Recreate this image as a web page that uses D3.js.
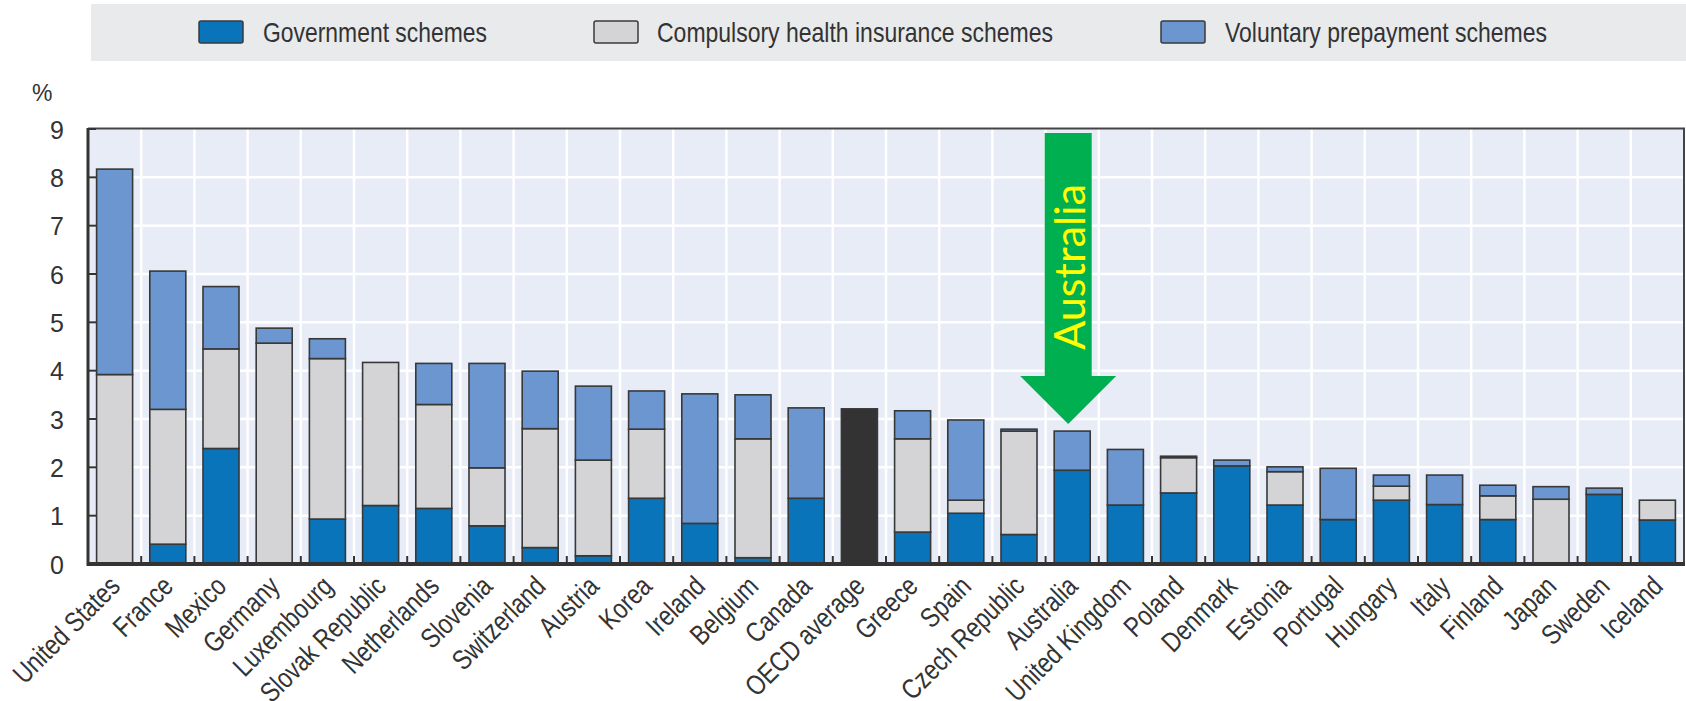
<!DOCTYPE html>
<html><head><meta charset="utf-8">
<script src="https://cdn.jsdelivr.net/npm/d3@7"></script>
<style>body{margin:0;background:#fff}svg{display:block}</style>
</head><body><svg id="c" width="1686" height="701"></svg>
<script>
const countries = ["United States","France","Mexico","Germany","Luxembourg","Slovak Republic","Netherlands","Slovenia","Switzerland","Austria","Korea","Ireland","Belgium","Canada","OECD average","Greece","Spain","Czech Republic","Australia","United Kingdom","Poland","Denmark","Estonia","Portugal","Hungary","Italy","Finland","Japan","Sweden","Iceland"];
const government = [0,0.41,2.39,0,0.93,1.21,1.15,0.79,0.34,0.17,1.36,0.84,0.13,1.36,0,0.66,1.05,0.61,1.94,1.22,1.47,2.03,1.22,0.92,1.32,1.23,0.92,0,1.44,0.91];
const compulsory = [3.92,2.79,2.06,4.57,3.32,2.96,2.15,1.20,2.46,1.98,1.43,0,2.46,0,0,1.93,0.27,2.14,0,0,0.73,0,0.69,0,0.29,0,0.49,1.34,0,0.41];
const voluntary = [4.25,2.86,1.29,0.31,0.41,0,0.85,2.16,1.19,1.53,0.79,2.68,0.91,1.87,0,0.58,1.66,0.04,0.81,1.15,0.03,0.12,0.10,1.06,0.23,0.61,0.22,0.26,0.13,0];
const oecdAverage = [0,0,0,0,0,0,0,0,0,0,0,0,0,0,3.21,0,0,0,0,0,0,0,0,0,0,0,0,0,0,0];
const yTicks = [0,1,2,3,4,5,6,7,8,9];
const seriesNames = ["Government schemes","Compulsory health insurance schemes","Voluntary prepayment schemes"];
const yUnit = "%";
const highlight = "Australia";

const colors = {gov:"#0a74ba", comp:"#d4d4d6", vol:"#6b96cf", avg:"#333333"};
const FONT = "'Liberation Sans Narrow','Arial Narrow','Liberation Sans',Arial,sans-serif";
const svg = d3.select("#c");

const L = 88, R = 1684, T = 129, B = 564;
const x = d3.scaleBand().domain(countries).range([L, R]).paddingInner(0.323).paddingOuter(0.1615);
const y = d3.scaleLinear().domain([0, 9]).range([B, T]);

// legend
svg.append("rect").attr("x",91).attr("y",4).attr("width",1595).attr("height",57).attr("fill","#e9eaec");
const legItems = [
  {name:seriesNames[0], c:colors.gov, sx:199, tx:263, w:224},
  {name:seriesNames[1], c:colors.comp, sx:594, tx:657, w:396},
  {name:seriesNames[2], c:colors.vol, sx:1161, tx:1225, w:322}
];
let k = 1;
legItems.forEach((d,i) => {
  svg.append("rect").attr("x",d.sx).attr("y",21).attr("width",44).attr("height",22).attr("rx",2)
    .attr("fill",d.c).attr("stroke","#3a3a3a").attr("stroke-width",1.5);
  const t = svg.append("text").attr("x",d.tx).attr("y",42).attr("font-family",FONT).attr("font-size",28)
    .attr("fill","#333").text(d.name);
  const nat = t.node().getComputedTextLength();
  if (i === 0) k = Math.min(1, d.w / nat);
  if (Math.abs(nat - d.w) > 6) t.attr("textLength", d.w).attr("lengthAdjust","spacingAndGlyphs");
});

// plot background
svg.append("rect").attr("x",L).attr("y",T).attr("width",R-L).attr("height",B-T).attr("fill","#e7ecf6");
const step = x.step();
const bounds = countries.slice(1).map(c => x(c) - step*x.paddingInner()/2);
svg.append("g").selectAll("line").data(bounds).join("line")
  .attr("x1",d=>d).attr("x2",d=>d).attr("y1",T).attr("y2",B).attr("stroke","#fff").attr("stroke-width",2.5);
svg.append("g").selectAll("line").data(yTicks.filter(v=>v>0&&v<9)).join("line")
  .attr("x1",L).attr("x2",R).attr("y1",d=>y(d)).attr("y2",d=>y(d)).attr("stroke","#fff").attr("stroke-width",2.5);

// bars
const rows = countries.map((c,i)=>({country:c, gov:government[i], comp:compulsory[i], vol:voluntary[i], avg:oecdAverage[i]}));
const keys = ["gov","comp","vol","avg"];
const stack = d3.stack().keys(keys)(rows);
const gBars = svg.append("g");
stack.forEach(s => {
  gBars.append("g").selectAll("rect").data(s.filter(d => d[1]-d[0] > 0.001)).join("rect")
    .attr("x", d => x(d.data.country))
    .attr("width", x.bandwidth())
    .attr("y", d => y(d[1]))
    .attr("height", d => y(d[0]) - y(d[1]))
    .attr("fill", colors[s.key])
    .attr("stroke", "#383838").attr("stroke-width", 1.6);
});

// axes frame
svg.append("line").attr("x1",L).attr("x2",R+1).attr("y1",T-0.5).attr("y2",T-0.5).attr("stroke","#444").attr("stroke-width",2);
svg.append("line").attr("x1",R).attr("x2",R).attr("y1",T-1).attr("y2",B).attr("stroke","#444").attr("stroke-width",2);
svg.append("line").attr("x1",L).attr("x2",L).attr("y1",T-1).attr("y2",B+2).attr("stroke","#333").attr("stroke-width",3);
svg.append("line").attr("x1",L-1).attr("x2",R+1).attr("y1",B).attr("y2",B).attr("stroke","#333").attr("stroke-width",4);
svg.append("g").selectAll("line").data(yTicks).join("line")
  .attr("x1",L).attr("x2",L+8).attr("y1",d=>y(d)).attr("y2",d=>y(d)).attr("stroke","#333").attr("stroke-width",2);
svg.append("g").selectAll("line").data(bounds).join("line")
  .attr("x1",d=>d).attr("x2",d=>d).attr("y1",B-8).attr("y2",B).attr("stroke","#333").attr("stroke-width",2);

// y axis labels
const yAxis = d3.axisLeft(y).tickValues(yTicks).tickSize(0).tickPadding(0).tickFormat(d3.format("d"));
const ya = svg.append("g").attr("transform",`translate(64,0)`).call(yAxis);
ya.select(".domain").remove();
ya.selectAll("text").attr("font-family",FONT).attr("font-size",25).attr("fill","#333").attr("dy","0.36em");
svg.append("text").attr("x",32).attr("y",101).attr("font-family",FONT).attr("font-size",23).attr("fill","#333").text(yUnit);

// x labels
const xl = svg.append("g").selectAll("text").data(countries).join("text")
  .attr("transform", d => `translate(${x(d)+x.bandwidth()/2+7},588) rotate(-45)`)
  .attr("text-anchor","end").attr("font-family",FONT).attr("font-size",28).attr("fill","#333")
  .text(d=>d);
if (k < 0.95) {
  xl.each(function(){ const n=this.getComputedTextLength(); d3.select(this).attr("textLength",n*k).attr("lengthAdjust","spacingAndGlyphs"); });
}

// Australia annotation
const ai = countries.indexOf(highlight);
const ac = x(highlight) + x.bandwidth()/2 - 4;
const aTop = y(government[ai]+compulsory[ai]+voluntary[ai]);
const tip = aTop - 7, headTop = tip - 48, shaftTop = y(9) + 4;
svg.append("rect").attr("x",ac-23.5).attr("y",shaftTop).attr("width",47).attr("height",headTop-shaftTop+1).attr("fill","#00b050");
svg.append("path").attr("d",`M${ac-48},${headTop}L${ac+48},${headTop}L${ac},${tip}Z`).attr("fill","#00b050");
svg.append("text").attr("transform",`translate(${ac+17},267) rotate(-90)`).attr("text-anchor","middle")
  .attr("font-family","Lato,'Open Sans',sans-serif").attr("font-size",42).attr("fill","#ffff00")
  .attr("textLength",166).attr("lengthAdjust","spacingAndGlyphs").text(highlight);
</script></body></html>
